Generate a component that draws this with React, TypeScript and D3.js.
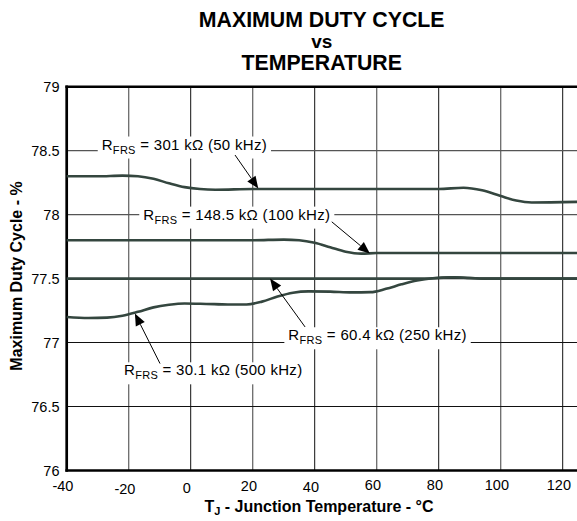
import React, { useEffect, useRef } from "react";
import * as d3 from "d3";

const xTicks = [-40, -20, 0, 20, 40, 60, 80, 100, 120];
const yTicks = [76, 76.5, 77, 77.5, 78, 78.5, 79];
const yTickLabels = ["76", "76.5", "77", "77.5", "78", "78.5", "79"];

// Curves: temperature (°C) vs maximum duty cycle (%)
const temp301 = [-40, -30, -22, -17, -12, -7, -2, 3, 8, 20, 40, 60, 80, 88, 94, 100, 105, 110, 125];
const duty301 = [78.3, 78.3, 78.305, 78.3, 78.28, 78.245, 78.215, 78.2, 78.195, 78.2, 78.2, 78.2, 78.2, 78.21, 78.19, 78.145, 78.11, 78.095, 78.1];

const temp148 = [-40, -20, 0, 20, 30, 35, 40, 45, 50, 55, 60, 80, 100, 125];
const duty148 = [77.8, 77.8, 77.8, 77.8, 77.805, 77.8, 77.78, 77.745, 77.71, 77.695, 77.7, 77.7, 77.7, 77.7];

const temp60 = [-40, -20, 0, 20, 40, 60, 75, 85, 95, 110, 125];
const duty60 = [77.5, 77.5, 77.5, 77.5, 77.5, 77.5, 77.5, 77.51, 77.5, 77.5, 77.5];

const temp30 = [-40, -33, -27, -22, -17, -12, -7, -2, 5, 12, 18, 23, 28, 33, 38, 45, 52, 58, 63, 68, 73, 78, 84, 90, 96, 125];
const duty30 = [77.2, 77.192, 77.195, 77.21, 77.24, 77.275, 77.295, 77.305, 77.302, 77.298, 77.298, 77.32, 77.36, 77.39, 77.4, 77.398, 77.392, 77.394, 77.42, 77.455, 77.485, 77.503, 77.51, 77.505, 77.5, 77.5];

const seriesTemps = [temp301, temp148, temp60, temp30];
const seriesDuty = [duty301, duty148, duty60, duty30];

// Annotations: label text, text anchor (data units), arrow start and tip (data units)
const annValue = ["301 kΩ (50 kHz)", "148.5 kΩ (100 kHz)", "60.4 kΩ (250 kHz)", "30.1 kΩ (500 kHz)"];
const annTextT = [-28.7, -15.3, 31.5, -21.5];
const annTextV = [78.509, 77.961, 77.018, 76.744];
const annFromT = [14.3, 45.5, 36.9, -9.9];
const annFromV = [78.466, 77.944, 77.122, 76.836];
const annTipT = [21.8, 57.8, 25.6, -18];
const annTipV = [78.205, 77.696, 77.5, 77.227];

const W = 577;
const H = 521;
const FONT = "'Liberation Sans', Arial, Helvetica, sans-serif";

export default function App() {
  const ref = useRef<SVGSVGElement>(null);

  useEffect(() => {
    const svg = d3.select(ref.current);
    svg.selectAll("*").remove();

    const x = d3.scaleLinear().domain([-40, 125]).range([66.7, 578.2]);
    const y = d3.scaleLinear().domain([76, 79]).range([470.5, 86.7]);

    svg.append("rect").attr("width", W).attr("height", H).attr("fill", "#fff");

    // Title
    const title = svg.append("g").attr("font-family", FONT).attr("font-weight", "bold").attr("fill", "#000").attr("text-anchor", "middle");
    title.append("text").attr("x", 321.7).attr("y", 27.3).attr("font-size", 21.3).text("MAXIMUM DUTY CYCLE");
    title.append("text").attr("x", 321.7).attr("y", 47.7).attr("font-size", 19).text("vs");
    title.append("text").attr("x", 321.7).attr("y", 70).attr("font-size", 21.3).text("TEMPERATURE");

    const plot = svg.append("g");
    const [x0, x1] = x.range();
    const [y0, y1] = y.range();

    // grid
    plot.selectAll("line.vg").data(xTicks.slice(1)).join("line")
      .attr("x1", (d) => x(d)).attr("x2", (d) => x(d))
      .attr("y1", y1).attr("y2", y0)
      .attr("stroke", (d, i) => (i % 2 === 0 ? "#6a6a6a" : "#111"))
      .attr("stroke-width", (d, i) => (i % 2 === 0 ? 1.3 : 1));
    plot.selectAll("line.hg").data(yTicks.slice(1, -1)).join("line")
      .attr("x1", x0).attr("x2", x1)
      .attr("y1", (d) => y(d)).attr("y2", (d) => y(d))
      .attr("stroke", (d) => (d >= 78 ? "#555" : "#111"))
      .attr("stroke-width", 1.1);

    // frame
    plot.append("line").attr("x1", x0 - 1.3).attr("x2", x1).attr("y1", y1).attr("y2", y1).attr("stroke", "#000").attr("stroke-width", 2.4);
    plot.append("line").attr("x1", x0 - 1.3).attr("x2", x1).attr("y1", y0).attr("y2", y0).attr("stroke", "#000").attr("stroke-width", 2.7);
    plot.append("line").attr("x1", x0).attr("x2", x0).attr("y1", y1 - 1.2).attr("y2", y0 + 1.3).attr("stroke", "#000").attr("stroke-width", 2.7);

    // curves
    const line = d3.line<[number, number]>().x((d) => x(d[0])).y((d) => y(d[1])).curve(d3.curveMonotoneX);
    seriesTemps.forEach((ts, i) => {
      const pts: [number, number][] = ts.map((t, j) => [t, seriesDuty[i][j]]);
      plot.append("path").attr("d", line(pts) as string).attr("fill", "none")
        .attr("stroke", "#34463f").attr("stroke-width", 2.6).attr("stroke-linejoin", "round");
    });

    // annotations
    const ann = svg.append("g").attr("font-family", FONT).attr("fill", "#000");
    annValue.forEach((val, i) => {
      const g = ann.append("g");
      const tx = x(annTextT[i]);
      const ty = y(annTextV[i]);
      const rect = g.append("rect").attr("fill", "#fff");
      const t = g.append("text").attr("x", tx).attr("y", ty).attr("font-size", 15).attr("letter-spacing", 0.3);
      t.append("tspan").text("R");
      t.append("tspan").attr("font-size", 11).attr("dy", 4).text("FRS");
      t.append("tspan").attr("dy", -4).text(" = " + val);
      const bb = (t.node() as SVGTextElement).getBBox();
      rect.attr("x", bb.x - 4).attr("y", ty - 13).attr("width", bb.width + 8).attr("height", 22);

      // arrow
      const fx = x(annFromT[i]), fy = y(annFromV[i]);
      const px = x(annTipT[i]), py = y(annTipV[i]);
      const dx = px - fx, dy = py - fy;
      const len = Math.hypot(dx, dy);
      const ux = dx / len, uy = dy / len;
      const hl = 12, hw = 5;
      const bx = px - ux * hl, by = py - uy * hl;
      g.append("line").attr("x1", fx).attr("y1", fy).attr("x2", bx).attr("y2", by).attr("stroke", "#000").attr("stroke-width", 1);
      g.append("path")
        .attr("d", d3.line()([[px, py], [bx - uy * hw, by + ux * hw], [bx + uy * hw, by - ux * hw]]) + "Z")
        .attr("fill", "#000");
    });

    // y tick labels
    const yt = svg.append("g").attr("font-family", FONT).attr("font-size", 14.5).attr("fill", "#000").attr("text-anchor", "end");
    yTicks.forEach((v, i) => {
      yt.append("text").attr("x", 59.5).attr("y", y(v) + 5).text(yTickLabels[i]);
    });

    // x tick labels
    const xt = svg.append("g").attr("font-family", FONT).attr("font-size", 14.5).attr("fill", "#000").attr("text-anchor", "middle");
    const nudge = [0, 3, 1.5, -0.5, 0.5, -1, -1, -1, -1];
    xTicks.forEach((v, i) => {
      xt.append("text").attr("x", x(v) - 3.8).attr("y", 491 + nudge[i]).text(String(v));
    });

    // x axis title
    const xl = svg.append("text").attr("font-family", FONT).attr("font-weight", "bold").attr("font-size", 16)
      .attr("text-anchor", "middle").attr("x", 319).attr("y", 511.7).attr("fill", "#000");
    xl.append("tspan").text("T");
    xl.append("tspan").attr("font-size", 11).attr("dy", 3.5).text("J");
    xl.append("tspan").attr("dy", -3.5).text(" - Junction Temperature - °C");

    // y axis title
    svg.append("text").attr("font-family", FONT).attr("font-weight", "bold").attr("font-size", 16)
      .attr("text-anchor", "middle").attr("transform", "translate(22,276) rotate(-90)").attr("fill", "#000")
      .text("Maximum Duty Cycle - %");
  }, []);

  return (
    <svg ref={ref} width={W} height={H} style={{ position: "absolute", left: 0, top: 0, display: "block" }} />
  );
}
